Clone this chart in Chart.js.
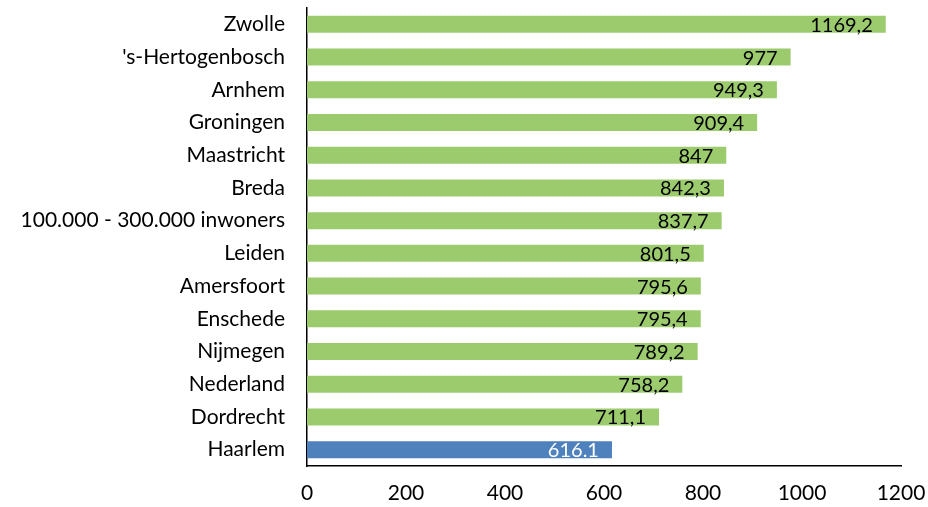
<!DOCTYPE html>
<html>
<head>
<meta charset="utf-8">
<script src="https://cdn.jsdelivr.net/npm/chart.js@4/dist/chart.umd.min.js"></script>
<style>
  html, body { margin: 0; padding: 0; background: #fff; }
</style>
</head>
<body>
<canvas id="chart" width="928" height="507"></canvas>
<script>
const categories = ["Zwolle", "'s-Hertogenbosch", "Arnhem", "Groningen", "Maastricht", "Breda",
    "100.000 - 300.000 inwoners", "Leiden", "Amersfoort", "Enschede", "Nijmegen", "Nederland",
    "Dordrecht", "Haarlem"];
const values = [1169.2, 977, 949.3, 909.4, 847, 842.3, 837.7, 801.5, 795.6, 795.4, 789.2, 758.2, 711.1, 616.1];
const valueLabels = ["1169,2", "977", "949,3", "909,4", "847", "842,3", "837,7", "801,5",
    "795,6", "795,4", "789,2", "758,2", "711,1", "616.1"];
const xTicks = [0, 200, 400, 600, 800, 1000, 1200];

const FONT = "Lato, sans-serif";
const green = "#9ccb6e";
const blue = "#4f81bd";

// value labels drawn just inside the end of each bar
const barLabels = {
    id: 'barLabels',
    afterDatasetsDraw(chart) {
        const ctx = chart.ctx;
        const meta = chart.getDatasetMeta(0);
        ctx.save();
        ctx.font = "20px " + FONT;
        ctx.textAlign = "right";
        ctx.textBaseline = "middle";
        meta.data.forEach((bar, i) => {
            ctx.fillStyle = categories[i] === "Haarlem" ? "#ffffff" : "#000000";
            ctx.fillText(valueLabels[i], bar.x - 13, bar.y + 1);
        });
        ctx.restore();
    }
};

var ctx = document.getElementById("chart").getContext("2d");
var chart = new Chart(ctx, {
    type: "bar",
    data: {
        labels: categories,
        datasets: [{
            data: values,
            backgroundColor: categories.map(c => c === "Haarlem" ? blue : green),
            barPercentage: 0.52,
            categoryPercentage: 1,
        }],
    },
    options: {
        indexAxis: 'y',
        responsive: false,
        animation: false,
        layout: { padding: { top: 8, right: 27, left: 0, bottom: 0 } },
        plugins: {
            legend: { display: false },
            tooltip: { enabled: false },
        },
        scales: {
            x: {
                min: 0,
                max: 1200,
                afterBuildTicks: (s) => { s.ticks = xTicks.map(v => ({ value: v })); },
                afterFit: (s) => { s.height = 41; s.paddingLeft = 0; s.paddingRight = 0; },
                grid: { display: false, drawTicks: false },
                border: { display: true, color: "#000", width: 1.5 },
                ticks: {
                    color: "#000", font: { family: FONT, size: 21 }, padding: 15, maxRotation: 0,
                    callback: (v) => String(v),
                },
            },
            y: {
                afterFit: (s) => { s.width = 307; s.paddingTop = 0; s.paddingBottom = 0; },
                grid: { display: false, drawTicks: false },
                border: { display: true, color: "#000", width: 1.5 },
                ticks: { color: "#000", font: { family: FONT, size: 21 }, padding: 22, autoSkip: false },
            },
        },
    },
    plugins: [barLabels],
});
</script>
</body>
</html>
